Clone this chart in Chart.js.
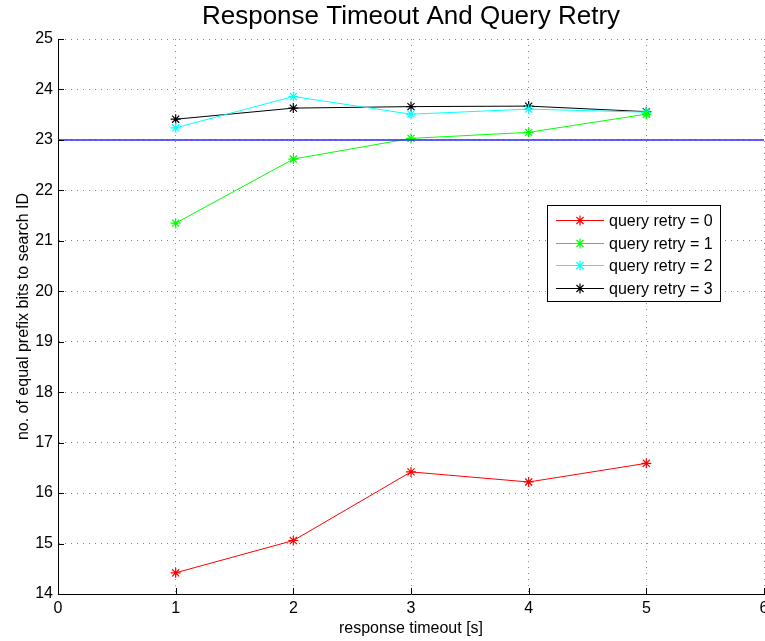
<!DOCTYPE html>
<html>
<head>
<meta charset="utf-8">
<script src="https://cdn.jsdelivr.net/npm/chart.js@4.4.1/dist/chart.umd.min.js"></script>
<style>
html,body{margin:0;padding:0;background:#fff;overflow:hidden;}
#wrap{width:765px;height:641px;position:relative;}
</style>
</head>
<body>
<div id="wrap"><canvas id="c" width="765" height="641"></canvas></div>
<script>
// ---- data ----
const timeouts = [1, 2, 3, 4, 5];
const retry0 = [14.42, 15.06, 16.42, 16.22, 16.59];
const retry1 = [21.35, 22.62, 23.03, 23.15, 23.51];
const retry2 = [23.24, 23.86, 23.51, 23.61, 23.55];
const retry3 = [23.41, 23.63, 23.66, 23.67, 23.56];
const refX = [0, 6];
const refY = [23, 23];
const seriesLabels = ['query retry = 0', 'query retry = 1', 'query retry = 2', 'query retry = 3'];
const seriesColors = ['#ff0000', '#00ff00', '#00ffff', '#000000'];
const xTicks = [0, 1, 2, 3, 4, 5, 6];
const yTicks = [14, 15, 16, 17, 18, 19, 20, 21, 22, 23, 24, 25];

const FONT = "'Liberation Sans', Arial, Helvetica, sans-serif";
const pts = (xs, ys) => xs.map((x, i) => ({x: x, y: ys[i]}));
const seriesData = [retry0, retry1, retry2, retry3];

const datasets = [{
  label: 'ref',
  data: pts(refX, refY),
  borderColor: 'rgba(40,40,255,0.75)',
  borderWidth: 2,
  pointRadius: 0,
  pointHoverRadius: 0,
  fill: false
}];
seriesData.forEach((s, i) => {
  datasets.push({
    label: seriesLabels[i],
    data: pts(timeouts, s),
    borderColor: seriesColors[i],
    backgroundColor: seriesColors[i],
    borderWidth: 1,
    pointStyle: 'star',
    pointRadius: 5,
    pointBorderWidth: 1.2,
    pointBorderColor: seriesColors[i],
    fill: false,
    tension: 0
  });
});

const axisDecor = {
  id: 'axisDecor',
  afterDraw(chart) {
    const ctx = chart.ctx, a = chart.chartArea;
    const xs = chart.scales.x, ys = chart.scales.y;
    ctx.save();
    ctx.strokeStyle = '#000';
    ctx.lineWidth = 1;
    ctx.beginPath();
    xTicks.forEach(v => {
      const px = Math.round(xs.getPixelForValue(v)) + 0.5;
      ctx.moveTo(px, a.bottom); ctx.lineTo(px, a.bottom - 6);
    });
    yTicks.forEach(v => {
      const py = Math.round(ys.getPixelForValue(v)) + 0.5;
      ctx.moveTo(a.left, py); ctx.lineTo(a.left + 6, py);
    });
    ctx.stroke();
    // x tick labels
    ctx.fillStyle = '#000';
    ctx.font = '16px ' + FONT;
    ctx.textAlign = 'center';
    ctx.textBaseline = 'top';
    xTicks.forEach(v => {
      ctx.fillText(String(v), xs.getPixelForValue(v), a.bottom + 7);
    });
    ctx.restore();
  }
};

const boxLegend = {
  id: 'boxLegend',
  afterDatasetsDraw(chart) {
    const ctx = chart.ctx;
    const x0 = 547, y0 = 205, w = 173, h = 96;
    ctx.save();
    ctx.fillStyle = '#fff';
    ctx.fillRect(x0, y0, w, h);
    ctx.strokeStyle = '#000';
    ctx.lineWidth = 1;
    ctx.strokeRect(x0 + 0.5, y0 + 0.5, w, h);
    ctx.font = '16px ' + FONT;
    ctx.textBaseline = 'middle';
    ctx.textAlign = 'left';
    seriesLabels.forEach((lab, i) => {
      const y = Math.round(y0 + 15 + i * 22.7) + 0.5;
      ctx.strokeStyle = seriesColors[i];
      ctx.fillStyle = seriesColors[i];
      ctx.lineWidth = 1;
      ctx.beginPath();
      ctx.moveTo(556, y); ctx.lineTo(604, y);
      ctx.stroke();
      ctx.lineWidth = 1.2;
      Chart.helpers.drawPoint(ctx, {pointStyle: 'star', radius: 5, borderWidth: 1.2}, 580, y);
      ctx.fillStyle = '#000';
      ctx.fillText(lab, 609, y + 1);
    });
    ctx.restore();
  }
};

new Chart(document.getElementById('c'), {
  type: 'line',
  data: {datasets: datasets},
  plugins: [axisDecor, boxLegend],
  options: {
    responsive: false,
    animation: false,
    devicePixelRatio: 1,
    layout: {autoPadding: false, padding: {left: 0, right: 1, top: 0, bottom: 0}},
    plugins: {
      legend: {display: false},
      tooltip: {enabled: false},
      title: {
        display: true,
        fullSize: false,
        text: 'Response Timeout And Query Retry',
        color: '#000',
        font: {family: FONT, size: 26, weight: 'normal', lineHeight: 1.2},
        padding: {top: 1, bottom: 6.8}
      }
    },
    scales: {
      x: {
        type: 'linear',
        min: 0, max: 6,
        afterBuildTicks(s) { s.ticks = xTicks.map(v => ({value: v})); },
        afterFit(s) { s.height = 47; s.paddingLeft = 0; s.paddingRight = 0; },
        ticks: {display: false},
        grid: {color: '#8a8a8a', lineWidth: 1, drawTicks: false},
        border: {color: '#000', width: 1, dash: [1, 5]},
        title: {display: true, text: 'response timeout [s]', color: '#000', font: {family: FONT, size: 16}, padding: {top: 0, bottom: 3}}
      },
      y: {
        type: 'linear',
        min: 14, max: 25,
        afterBuildTicks(s) { s.ticks = yTicks.map(v => ({value: v})); },
        afterFit(s) { s.width = 58; },
        ticks: {color: '#000', font: {family: FONT, size: 16}, padding: 5, autoSkip: false},
        grid: {color: '#8a8a8a', lineWidth: 1, drawTicks: false},
        border: {color: '#000', width: 1, dash: [1, 5]},
        title: {display: true, text: 'no. of equal prefix bits to search ID', color: '#000', font: {family: FONT, size: 16}, padding: {top: 14, bottom: 0}}
      }
    }
  }
});
</script>
</body>
</html>
